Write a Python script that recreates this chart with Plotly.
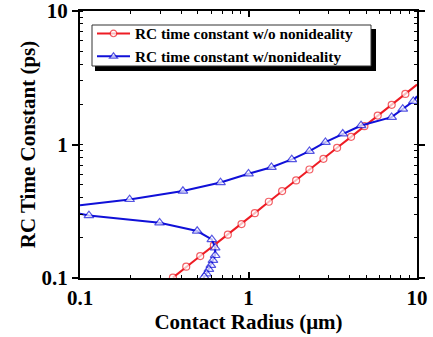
import plotly.graph_objects as go

# Contact radius (um) and RC time constant (ps) without nonideality
x_ideal = [0.356, 0.427, 0.517, 0.623, 0.754, 0.909, 1.090, 1.320, 1.583, 1.917,
           2.300, 2.785, 3.356, 4.063, 4.873, 5.846, 7.077, 8.527, 10.0]
rc_ideal = [0.1006, 0.1216, 0.146, 0.1755, 0.211, 0.2535, 0.306, 0.3724, 0.4477, 0.538,
            0.650, 0.781, 0.944, 1.141, 1.371, 1.648, 1.981, 2.393, 2.81]
ideal_marker = [1] * 18 + [0]

# With nonideality: upper branch
x_upper = [0.1, 0.197, 0.408, 0.682, 1.0, 1.368, 1.806, 2.30, 2.861, 3.625, 4.656,
           7.07, 8.23, 9.51, 10.0]
rc_upper = [0.35, 0.388, 0.448, 0.520, 0.604, 0.676, 0.773, 0.891, 1.041, 1.202, 1.388,
            1.602, 1.848, 2.109, 2.30]
upper_marker = [0] + [1] * 13 + [0]

# With nonideality: lower branch
x_lower = [0.1, 0.113, 0.2967, 0.496, 0.606, 0.634, 0.634, 0.615, 0.598, 0.582, 0.5636,
           0.546, 0.535]
rc_lower = [0.303, 0.294, 0.2595, 0.2248, 0.1946, 0.1686, 0.1478, 0.1356, 0.1244, 0.1161,
            0.1077, 0.1023, 0.095]
lower_marker = [0] + [1] * 11 + [0]

RED = "#ee1c24"
BLUE = "#1010d8"
FONT = "Liberation Serif"

fig = go.Figure()
fig.add_trace(go.Scatter(
    x=x_ideal, y=rc_ideal, mode="lines+markers",
    name="RC time constant w/o nonideality",
    line=dict(color=RED, width=2),
    marker=dict(symbol="circle", size=[7 * s for s in ideal_marker], color="white",
                line=dict(color=RED, width=1.2)),
))
fig.add_trace(go.Scatter(
    x=x_upper + [None] + x_lower, y=rc_upper + [None] + rc_lower,
    mode="lines+markers", connectgaps=False,
    name="RC time constant w/nonideality",
    line=dict(color=BLUE, width=2),
    marker=dict(symbol="triangle-up", size=[8.5 * s for s in upper_marker + [0] + lower_marker],
                color="white", line=dict(color=BLUE, width=1.2)),
))

axis_common = dict(
    type="log", showline=True, linecolor="black", linewidth=2, mirror="ticks",
    showgrid=False, zeroline=False, ticklen=6, tickwidth=1.5, tickcolor="black",
    automargin=False, ticklabeloverflow="allow",
    tickfont=dict(family=FONT, size=21, color="black", weight="bold"),
    minor=dict(ticks="inside", ticklen=3, tickwidth=1.2, tickcolor="black", dtick="D1", showgrid=False),
)

fig.update_xaxes(
    **axis_common, range=[-1, 1], tickvals=[0.1, 1, 10], ticktext=["0.1", "1", "10"],
    ticks="inside",
    title=dict(text="Contact Radius (μm)", font=dict(family=FONT, size=21, color="black", weight="bold"),
               standoff=0),
)
fig.update_yaxes(
    **axis_common, range=[-1, 1], tickvals=[0.1, 1, 10], ticktext=["0.1", "1", "10"],
    ticks="outside",
    title=dict(text="RC Time Constant (ps)", font=dict(family=FONT, size=21, color="black", weight="bold"),
               standoff=0),
)

W_PLOT, H_PLOT, L, T = 337, 267, 80, 11


def px_x(p):
    return (p - L) / W_PLOT


def px_y(p):
    return 1 - (p - T) / H_PLOT


# legend shadow and box
fig.add_shape(type="rect", xref="paper", yref="paper",
              x0=px_x(95), x1=px_x(376), y0=px_y(71), y1=px_y(29),
              fillcolor="black", line=dict(width=0), layer="above")
fig.add_shape(type="rect", xref="paper", yref="paper",
              x0=px_x(92), x1=px_x(371), y0=px_y(66), y1=px_y(25),
              fillcolor="white", line=dict(color="#333", width=1), layer="above")

fig.update_layout(
    width=433, height=337,
    margin=dict(l=80, r=16, t=11, b=59),
    paper_bgcolor="white", plot_bgcolor="white",
    showlegend=True,
    legend=dict(x=px_x(92), y=px_y(17), xanchor="left", yanchor="top",
                bgcolor="rgba(0,0,0,0)", borderwidth=0,
                font=dict(family=FONT, size=15.3, color="black", weight="bold"),
                itemwidth=33, tracegroupgap=0),
)

fig.write_html("out.html", post_script="document.body.style.margin='0px';",
               config={"displayModeBar": False})
